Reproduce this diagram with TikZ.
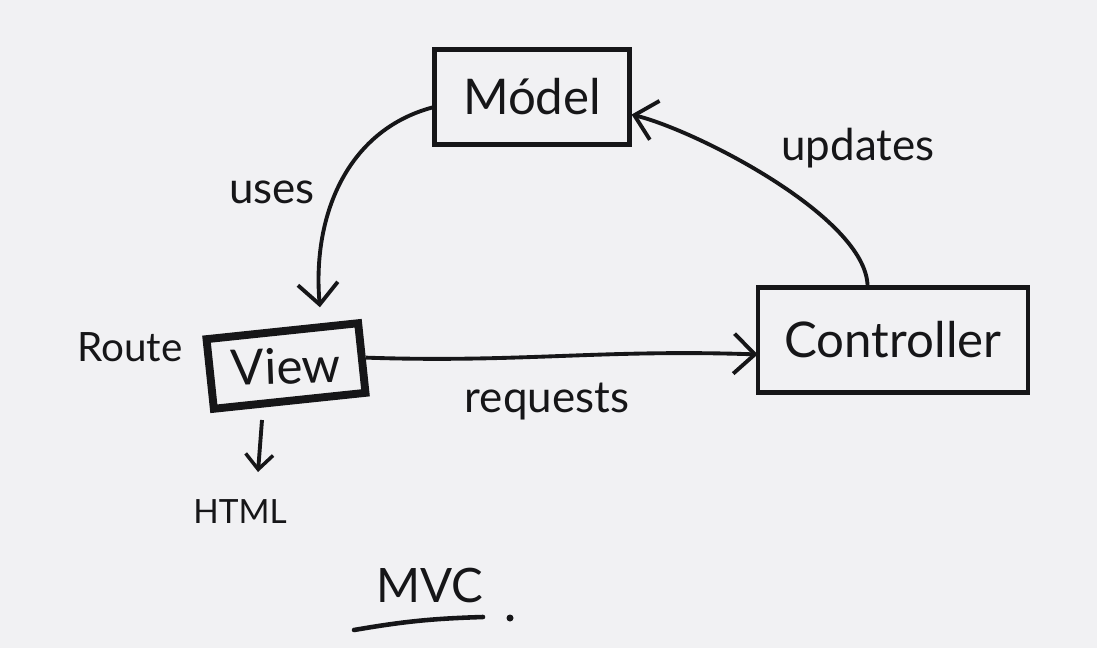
\documentclass[tikz,border=0pt]{standalone}
\usepackage{fontspec}
\setmainfont{Lato}
\usetikzlibrary{arrows.meta}

\begin{document}
\begin{tikzpicture}[x=0.02cm, y=-0.02cm,
    box/.style={draw=inkblack, text=inkblack, line width=2.4pt, inner sep=0pt,
        font=\fontsize{28}{32}\selectfont},
    lbl/.style={text=inkblack, inner sep=0pt, font=\fontsize{25}{30}\selectfont},
    arr/.style={draw=inkblack, line width=2.2pt,
        -{Straight Barb[length=0.42cm, width=0.8cm, line width=2.2pt]}}]
    % Define colors
    \definecolor{inkblack}{RGB}{22,22,24}
    \definecolor{paper}{RGB}{241,241,243}

    % Paper
    \fill[paper] (0,0) rectangle (1097,648);
    \useasboundingbox (0,0) rectangle (1097,648);

    % Boxes
    \node[box, minimum width=3.9cm, minimum height=1.9cm] (model) at (532,97) {Módel};
    \node[box, line width=4.5pt, minimum width=3.05cm, minimum height=1.4cm, rotate=6] (view) at (286,366) {};
    \node[box, draw=none, rotate=2] (viewtext) at (view.center) {View};
    \node[box, minimum width=5.4cm, minimum height=2.1cm] (controller) at (893,340) {Controller};

    % Connectors
    \draw[arr] (model.186) to[out=195, in=95] ([shift={(38,-20)}]view.north);
    \draw[arr] (controller.115) to[out=92, in=-14, looseness=0.6] (model.-10);
    \draw[arr, shorten >=-1pt] (view.east) to[out=-2, in=178] (controller.186);

    % Labels
    \node[lbl] (uses) at (272,192) {uses};
    \node[lbl] (updates) at (858,148) {updates};
    \node[lbl] (requests) at (547,402) {requests};
    \node[lbl, font=\fontsize{23}{28}\selectfont] (route) at (130,347) {Route};
    \node[lbl, font=\fontsize{19}{24}\selectfont] (html) at (240,512) {HTML};

    % View -> HTML
    \coordinate (htmlstart) at (262,420);
    \coordinate (htmlend) at (258,472);
    \draw[arr, -{Straight Barb[length=0.3cm, width=0.55cm, line width=2pt]}] (htmlstart) -- (htmlend);

    % Title
    \node[lbl, font=\fontsize{27}{32}\selectfont] (mvc) at (430,585) {MVC};
    \draw[inkblack, line width=2.6pt, line cap=round] (354,630) to[bend left=4] (483,617);
    \fill[inkblack] (510,618) circle (3.5);
\end{tikzpicture}
\end{document}
